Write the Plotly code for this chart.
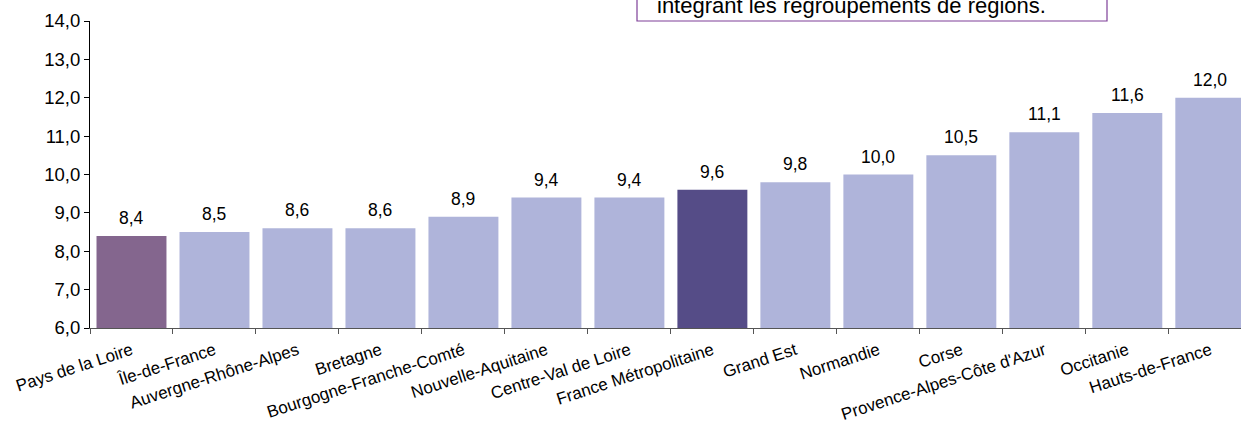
import plotly.graph_objects as go

categories = ["Pays de la Loire", "Île-de-France", "Auvergne-Rhône-Alpes", "Bretagne",
              "Bourgogne-Franche-Comté", "Nouvelle-Aquitaine", "Centre-Val de Loire",
              "France Métropolitaine", "Grand Est", "Normandie", "Corse",
              "Provence-Alpes-Côte d'Azur", "Occitanie", "Hauts-de-France"]
values = [8.4, 8.5, 8.6, 8.6, 8.9, 9.4, 9.4, 9.6, 9.8, 10.0, 10.5, 11.1, 11.6, 12.0]
y_ticks = [6, 7, 8, 9, 10, 11, 12, 13, 14]
note_text = "intégrant les regroupements de régions."

light = "#AFB4DA"
colors = []
for c in categories:
    if c == "Pays de la Loire":
        colors.append("#84668E")
    elif c == "France Métropolitaine":
        colors.append("#554C87")
    else:
        colors.append(light)

FONT = "Liberation Sans, Arial, sans-serif"

fig = go.Figure()
fig.add_trace(go.Bar(x=categories, y=values, marker=dict(color=colors, line=dict(width=0)),
                     hoverinfo="skip"))

for c, v in zip(categories, values):
    fig.add_annotation(x=c, y=v, text=f"{v:.1f}".replace(".", ","), showarrow=False,
                       yanchor="bottom", yshift=6, font=dict(size=17.5, color="#000000", family=FONT))

# note box (partly above the visible area)
fig.add_shape(type="rect", xref="paper", yref="paper",
              x0=(637 - 90) / 1151, x1=(1107 - 90) / 1151,
              y0=1.0, y1=1.3, line=dict(color="#7E3F98", width=1.2), fillcolor="white")
fig.add_annotation(xref="paper", yref="paper", x=(655 - 90) / 1151, y=(328 - 6) / 307,
                   xanchor="left", yanchor="middle", text=note_text, showarrow=False,
                   font=dict(size=22, color="#000000", family=FONT))

fig.update_layout(
    width=1241, height=435,
    margin=dict(l=90, r=0, t=21, b=107),
    paper_bgcolor="white", plot_bgcolor="white",
    bargap=0.157,
    separators=", ",
    showlegend=False,
    hovermode=False,
    font=dict(family=FONT, size=17, color="#000000"),
)
fig.update_xaxes(
    range=[-0.5, 13.37],
    tickangle=-18,
    tickson="boundaries",
    ticks="outside", ticklen=5, tickcolor="#555555",
    showline=True, linecolor="#555555", linewidth=1.2,
    tickfont=dict(size=17, family=FONT, color="#000000"),
    ticklabelstandoff=5,
    showgrid=False,
)
fig.update_yaxes(
    range=[6, 14],
    tickvals=y_ticks,
    ticktext=[f"{t:.1f}".replace(".", ",") for t in y_ticks],
    ticks="outside", ticklen=5, tickcolor="#000000",
    showline=True, linecolor="#000000", linewidth=1,
    tickfont=dict(size=18.5, family=FONT, color="#000000"),
    showgrid=False, zeroline=False,
)

fig.write_html("out.html", config={"displayModeBar": False},
               post_script="document.body.style.margin='0';")
